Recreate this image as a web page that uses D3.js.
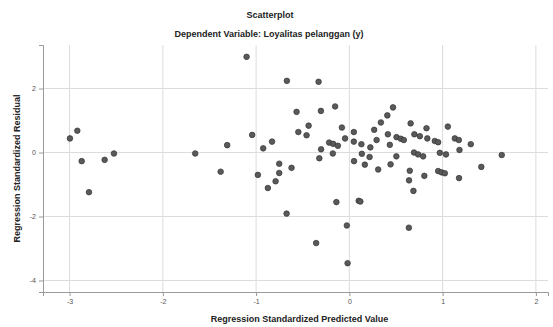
<!DOCTYPE html>
<html>
<head>
<meta charset="utf-8">
<script src="https://cdn.jsdelivr.net/npm/d3@7"></script>
<style>
  body { margin: 0; background: #fff; }
  text { font-family: "Liberation Sans", Arial, sans-serif; }
</style>
</head>
<body>
<div id="plot"></div>
<script>
// Values: predicted (x) and residual (y)
const predicted = [
  -2.996, -2.917, -2.870, -2.792, -2.624, -2.524, -1.653, -1.310, -1.380, -1.102,
  -1.042, -0.981, -0.924, -0.829, -0.874, -0.752, -0.752, -0.791, -0.670, -0.673,
  -0.620, -0.330, -0.566, -0.305, -0.153, -0.547, -0.437, -0.459, -0.303, -0.322,
  -0.217, -0.174, -0.123, -0.177, -0.080, -0.046, 0.048, 0.048, 0.129, 0.134,
  0.050, 0.166, 0.217, 0.225, 0.266, 0.292, 0.338, 0.407, 0.468, 0.413,
  0.434, 0.309, 0.442, 0.504, 0.506, 0.552, 0.584, 0.657, 0.697, 0.756,
  0.827, 0.836, 0.916, 0.952, 0.693, 0.737, 0.791, 0.970, 1.036, 1.056,
  1.131, 1.174, 1.181, 1.302, 1.634, 1.415, 1.176, 0.952, 0.988, 1.024,
  0.804, 0.648, 0.640, 0.687, -0.139, 0.100, -0.027, -0.356, -0.019, 0.638,
  0.118
];
const residual = [
  0.44, 0.68, -0.27, -1.24, -0.23, -0.03, -0.03, 0.23, -0.60, 2.99,
  0.55, -0.70, 0.13, 0.34, -1.11, -0.35, -0.64, -0.90, 2.24, -1.91,
  -0.48, 2.21, 1.27, 1.30, 1.44, 0.64, 0.84, 0.54, 0.10, -0.18,
  0.31, 0.27, 0.21, -0.03, 0.78, 0.44, 0.64, 0.34, 0.26, -0.04,
  -0.27, -0.38, -0.14, 0.16, 0.71, 0.39, 0.94, 1.16, 1.41, 0.57,
  0.24, -0.53, -0.37, -0.12, 0.48, 0.43, 0.39, 0.91, 0.57, 0.51,
  0.76, 0.44, 0.36, 0.32, 0.00, -0.06, -0.12, -0.01, -0.06, 0.81,
  0.44, 0.39, 0.08, 0.26, -0.08, -0.45, -0.80, -0.58, -0.62, -0.65,
  -0.73, -0.57, -0.87, -1.20, -1.55, -1.51, -2.28, -2.83, -3.46, -2.35,
  -1.53
];
const xTicks = [-3, -2, -1, 0, 1, 2];
const yTicks = [-4, -2, 0, 2];

const width = 553, height = 327;
const margin = { top: 45, right: 5, bottom: 35, left: 43 };

const svg = d3.select("#plot")
    .append("svg")
    .attr("width", width)
    .attr("height", height);

const x = d3.scaleLinear()
    .domain([-3.285, 2.13])
    .range([margin.left, width - margin.right]);

const y = d3.scaleLinear()
    .domain([-4.36, 3.36])
    .range([height - margin.bottom, margin.top]);

// Grid lines
svg.append("g")
    .selectAll("line")
    .data(xTicks)
    .join("line")
    .attr("x1", d => x(d)).attr("x2", d => x(d))
    .attr("y1", margin.top).attr("y2", height - margin.bottom)
    .attr("stroke", "#dcdcdc")
    .attr("stroke-width", 1);

svg.append("g")
    .selectAll("line")
    .data(yTicks)
    .join("line")
    .attr("x1", margin.left).attr("x2", width - margin.right)
    .attr("y1", d => y(d)).attr("y2", d => y(d))
    .attr("stroke", "#dcdcdc")
    .attr("stroke-width", 1);

// Axes (plain hyphen labels, no decimals)
const fmt = d => String(d);

const xAxis = svg.append("g")
    .attr("transform", `translate(0,${height - margin.bottom})`)
    .call(d3.axisBottom(x).tickValues(xTicks).tickFormat(fmt).tickSize(4).tickPadding(3));

const yAxis = svg.append("g")
    .attr("transform", `translate(${margin.left},0)`)
    .call(d3.axisLeft(y).tickValues(yTicks).tickFormat(fmt).tickSize(4).tickPadding(3));

[xAxis, yAxis].forEach(a => {
    a.select(".domain").attr("stroke", "#999");
    a.selectAll(".tick line").attr("stroke", "#999");
    a.selectAll(".tick text")
        .attr("fill", "#555")
        .style("font-size", "7px")
        .style("font-family", "'Liberation Sans', Arial, sans-serif");
});

// Points
svg.append("g")
    .selectAll("circle")
    .data(predicted.map((p, i) => [p, residual[i]]))
    .join("circle")
    .attr("cx", d => x(d[0]))
    .attr("cy", d => y(d[1]))
    .attr("r", 2.8)
    .attr("fill", "#5a5a5a")
    .attr("stroke", "#333")
    .attr("stroke-width", 0.7);

// Titles
svg.append("text")
    .attr("x", 270).attr("y", 18)
    .attr("text-anchor", "middle")
    .attr("font-size", "9px").attr("font-weight", "bold")
    .attr("fill", "#222")
    .text("Scatterplot");

svg.append("text")
    .attr("x", 269).attr("y", 37)
    .attr("text-anchor", "middle")
    .attr("font-size", "9px").attr("font-weight", "bold")
    .attr("fill", "#222")
    .text("Dependent Variable: Loyalitas pelanggan (y)");

svg.append("text")
    .attr("x", (margin.left + width - margin.right) / 2 + 4)
    .attr("y", 322)
    .attr("text-anchor", "middle")
    .attr("font-size", "9px").attr("font-weight", "bold")
    .attr("fill", "#222")
    .text("Regression Standardized Predicted Value");

svg.append("text")
    .attr("transform", `translate(20,${(margin.top + height - margin.bottom) / 2}) rotate(-90)`)
    .attr("text-anchor", "middle")
    .attr("font-size", "9px").attr("font-weight", "bold")
    .attr("fill", "#222")
    .text("Regression Standardized Residual");
</script>
</body>
</html>
